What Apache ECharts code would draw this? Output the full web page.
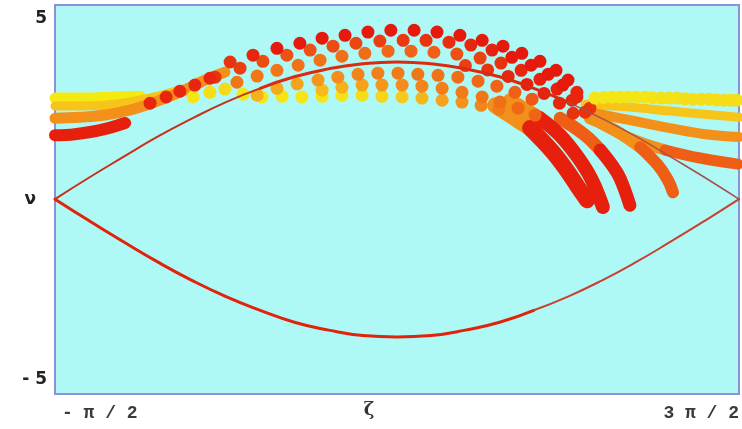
<!DOCTYPE html>
<html>
<head>
<meta charset="utf-8">
<script src="https://cdn.jsdelivr.net/npm/echarts@6/dist/echarts.min.js"></script>
<style>
  html, body { margin: 0; padding: 0; background: #ffffff; }
  #chart { width: 742px; height: 429px; }
</style>
</head>
<body>
<div id="chart"></div>
<script>
// Phase ζ is stored in units of π, velocity ν as is.
const zetaTicks = [-0.5, 1.5];
const zetaTickText = ['- π / 2', '3 π / 2'];
const nuTicks = [-5, 5];
const nuTickText = ['- 5', '5'];

// Separatrix branches [ζ/π, ν]
const separatrixUpperLeft = [[-0.5,0],[-0.4,0.6],[-0.3,1.17],[-0.2,1.73],[-0.1,2.23],[0,2.69],[0.1,3.07]];
const separatrixUpperMid = [[0.1,3.07],[0.2,3.39],[0.3,3.61],[0.4,3.75],[0.5,3.8],[0.6,3.75],[0.7,3.61],[0.8,3.39],[0.9,3.07],[1.0,2.69]];
const separatrixUpperRight = [[1.0,2.69],[1.1,2.23],[1.2,1.73],[1.3,1.17],[1.4,0.6],[1.5,0]];
const separatrixLowerLeft = [[-0.5,0],[-0.4,-0.6],[-0.3,-1.18],[-0.2,-1.74],[-0.1,-2.25],[0,-2.7],[0.1,-3.08],[0.2,-3.41],[0.3,-3.63],[0.4,-3.78],[0.5,-3.82],[0.6,-3.78],[0.7,-3.63],[0.8,-3.41],[0.9,-3.08]];
const separatrixLowerRight = [[0.9,-3.08],[1.0,-2.7],[1.1,-2.25],[1.2,-1.74],[1.3,-1.18],[1.4,-0.6],[1.5,0]];

// Particle rows in the bunch [ζ/π, ν, tone] (tone 0 = yellow, 1 = red)
const rowA = [[0.012,3.80,0.9],[0.079,3.99,0.95],[0.149,4.18,1],[0.216,4.32,1],[0.281,4.46,1],[0.348,4.54,1],[0.415,4.63,1],[0.482,4.68,1],[0.550,4.68,1],[0.617,4.63,1],[0.684,4.54,1],[0.749,4.40,1],[0.810,4.24,1],[0.865,4.04,1],[0.918,3.82,1],[0.965,3.57,1],[1.000,3.30,1],[1.026,2.96,0.95]];
const rowB = [[-0.032,3.38,0.9],[0.041,3.63,0.85],[0.108,3.82,0.8],[0.178,3.99,0.78],[0.246,4.13,0.78],[0.313,4.24,0.8],[0.380,4.32,0.82],[0.450,4.38,0.85],[0.518,4.40,0.88],[0.585,4.40,0.9],[0.652,4.35,0.92],[0.716,4.27,0.95],[0.778,4.13,0.97],[0.836,3.93,1],[0.892,3.71,1],[0.942,3.46,1],[0.985,3.16,1],[1.026,2.83,0.95],[1.064,2.52,0.9]];
const rowC = [[0.032,3.24,0.62],[0.091,3.41,0.62],[0.149,3.57,0.62],[0.211,3.71,0.64],[0.275,3.85,0.64],[0.339,3.96,0.65],[0.406,4.04,0.66],[0.474,4.10,0.68],[0.541,4.10,0.7],[0.608,4.07,0.72],[0.675,4.02,0.78],[0.743,3.91,0.84],[0.804,3.77,0.9],[0.863,3.57,0.95],[0.918,3.32,0.97],[0.968,3.05,0.97],[1.012,2.74,0.95],[1.050,2.41,0.9]];
const rowD = [[0.700,3.70,0.85],[0.765,3.58,0.9],[0.825,3.40,0.95],[0.880,3.18,0.97],[0.930,2.93,0.97],[0.975,2.66,0.95],[1.015,2.38,0.9]];
const rowE = [[0.091,2.88,0.35],[0.149,3.07,0.38],[0.208,3.19,0.42],[0.269,3.30,0.48],[0.327,3.38,0.52],[0.386,3.46,0.56],[0.444,3.49,0.58],[0.503,3.49,0.6],[0.561,3.46,0.62],[0.620,3.43,0.64],[0.678,3.38,0.66],[0.737,3.27,0.68],[0.792,3.13,0.7],[0.845,2.96,0.72],[0.895,2.77,0.75]];
const rowF = [[0.281,3.02,0.3],[0.339,3.10,0.35],[0.398,3.16,0.42],[0.456,3.16,0.48],[0.515,3.16,0.52],[0.573,3.13,0.55],[0.632,3.07,0.58],[0.690,2.96,0.6],[0.749,2.83,0.62],[0.801,2.69,0.65],[0.854,2.52,0.68],[0.904,2.33,0.7]];
const rowG = [[-0.096,2.83,0.05],[-0.047,2.96,0.1],[-0.003,3.05,0.12],[0.050,2.91,0.05],[0.105,2.83,0.05],[0.164,2.85,0.05],[0.222,2.83,0.05],[0.281,2.85,0.05],[0.339,2.88,0.08],[0.398,2.88,0.1],[0.456,2.85,0.15],[0.515,2.83,0.22],[0.573,2.80,0.32],[0.632,2.74,0.42],[0.690,2.69,0.5],[0.746,2.60,0.55],[0.798,2.49,0.6]];
const leftRedDots = [[-0.222,2.66,0.95],[-0.175,2.83,0.95],[-0.135,2.99,0.95],[-0.091,3.16,0.95],[-0.047,3.35,0.95]];
const rightYellowDots = [[1.079,2.80,0.05],[1.104,2.82,0.05],[1.129,2.83,0.05],[1.152,2.83,0.05],[1.175,2.83,0.05],[1.200,2.83,0.05],[1.225,2.83,0.05],[1.248,2.81,0.06],[1.272,2.80,0.08],[1.296,2.80,0.08],[1.319,2.80,0.08],[1.342,2.78,0.1],[1.365,2.77,0.1],[1.389,2.77,0.1],[1.412,2.77,0.1],[1.434,2.75,0.1],[1.456,2.74,0.1],[1.476,2.74,0.1],[1.494,2.74,0.1]];

// Compressed streams of particles [ζ/π, ν]
const bandLeftYellow = [[-0.5,2.80],[-0.412,2.80],[-0.325,2.83],[-0.251,2.85]];
const bandLeftAmber = [[-0.5,2.58],[-0.412,2.58],[-0.325,2.63],[-0.237,2.77],[-0.149,2.99],[-0.076,3.19]];
const bandLeftOrange = [[-0.5,2.24],[-0.427,2.27],[-0.354,2.33],[-0.281,2.47],[-0.208,2.69],[-0.135,2.96],[-0.061,3.30],[-0.003,3.52]];
const bandLeftRed = [[-0.5,1.77],[-0.442,1.80],[-0.368,1.91],[-0.295,2.11]];
const finger1Head = [[0.787,2.60],[0.845,2.24],[0.889,1.97]];
const finger1Tail = [[0.889,1.97],[0.956,1.30],[1.000,0.75],[1.035,0.25],[1.056,-0.03]];
const finger2Head = [[0.830,2.74],[0.918,2.24]];
const finger2Tail = [[0.918,2.24],[0.977,1.77],[1.029,1.16],[1.070,0.53],[1.102,-0.22]];
const finger3Head = [[0.977,2.24],[1.050,1.77],[1.094,1.36]];
const finger3Tail = [[1.094,1.36],[1.129,0.94],[1.152,0.58],[1.181,-0.17]];
const finger4Head = [[1.064,2.24],[1.137,1.91],[1.211,1.44]];
const finger4Tail = [[1.211,1.44],[1.263,0.94],[1.292,0.53],[1.307,0.19]];
const band5Head = [[1.094,2.11],[1.181,1.69],[1.284,1.36]];
const band5Tail = [[1.284,1.36],[1.386,1.14],[1.497,0.97]];
const band6 = [[1.064,2.41],[1.181,2.19],[1.298,1.97],[1.401,1.80],[1.5,1.72]];
const band7 = [[1.050,2.63],[1.181,2.55],[1.298,2.44],[1.401,2.35],[1.5,2.27]];

const YELLOW = '#f4ea12', AMBER = '#f7c41a', ORANGE = '#f3901a', ORANGE_RED = '#ee5e14', RED = '#e6200c';

function stream(data, color, width) {
  return {
    type: 'line', data, smooth: 0.4, showSymbol: false, symbol: 'none',
    lineStyle: { color, width, cap: 'round', join: 'round' },
    z: 2, silent: true
  };
}
function curve(data, color, width) {
  return {
    type: 'line', data, smooth: true, showSymbol: false, symbol: 'none',
    lineStyle: { color, width, cap: 'round' }, z: 5, silent: true
  };
}

const series = [
  stream(bandLeftYellow, YELLOW, 11),
  stream(bandLeftAmber, AMBER, 9),
  stream(bandLeftOrange, ORANGE, 11),
  stream(bandLeftRed, RED, 12),
  stream(band7, AMBER, 9),
  stream(band6, ORANGE, 10),
  stream(band5Head, ORANGE, 11),
  stream(band5Tail, ORANGE_RED, 11),
  stream(finger4Head, ORANGE, 12),
  stream(finger4Tail, ORANGE_RED, 12),
  stream(finger3Head, ORANGE_RED, 13),
  stream(finger3Tail, RED, 13),
  stream(finger2Head, ORANGE, 14),
  stream(finger2Tail, RED, 14),
  stream(finger1Head, ORANGE, 16),
  stream(finger1Tail, RED, 16)
];

const dotRows = [rowG, rowF, rowE, rowD, rowC, rowB, rowA, leftRedDots, rightYellowDots];
const dotSeriesIndex = [];
dotRows.forEach(function (row) {
  dotSeriesIndex.push(series.length);
  series.push({
    type: 'scatter', data: row, symbolSize: 13, z: 3, silent: true,
    itemStyle: { opacity: 1 }
  });
});

series.push(
  curve(separatrixUpperLeft, '#c83018', 2),
  curve(separatrixUpperMid, '#dc2a10', 3),
  curve(separatrixUpperRight, '#a8504a', 1.5),
  curve(separatrixLowerLeft, '#e0240c', 3),
  curve(separatrixLowerRight, '#c8402e', 2)
);

const chart = echarts.init(document.getElementById('chart'), null, { renderer: 'canvas' });
chart.setOption({
  animation: false,
  backgroundColor: '#ffffff',
  grid: {
    left: 55, right: 3, top: 5, bottom: 35,
    outerBoundsMode: 'none', containLabel: false,
    show: true, backgroundColor: '#aef8f6', borderColor: '#8f8fdc', borderWidth: 2
  },
  xAxis: {
    type: 'value', min: -0.5, max: 1.5,
    axisLine: { show: false }, axisTick: { show: false }, splitLine: { show: false },
    axisLabel: {
      customValues: zetaTicks,
      formatter: function (v) { return zetaTickText[zetaTicks.indexOf(v)]; },
      alignMinLabel: 'left', alignMaxLabel: 'right',
      padding: [0, 0, 0, 7],
      fontFamily: 'Liberation Mono', fontWeight: 'bold', fontSize: 18, color: '#3a3a3a', margin: 10
    },
    name: 'ζ', nameLocation: 'middle', nameGap: 7, nameMoveOverlap: false,
    nameTextStyle: { fontFamily: 'DejaVu Serif', fontWeight: 'bold', fontSize: 18, color: '#333', padding: [0, 56, 0, 0] }
  },
  yAxis: {
    type: 'value', min: -5.4, max: 5.38,
    axisLine: { show: false }, axisTick: { show: false }, splitLine: { show: false },
    axisLabel: {
      customValues: nuTicks,
      formatter: function (v) { return nuTickText[nuTicks.indexOf(v)]; },
      fontFamily: 'DejaVu Sans', fontWeight: 'bold', fontSize: 17, color: '#222', margin: 8,
      padding: [4, 0, 0, 0]
    },
    name: 'ν', nameLocation: 'middle', nameRotate: 0, nameGap: 19, nameMoveOverlap: false,
    nameTextStyle: { fontFamily: 'DejaVu Sans', fontWeight: 'bold', fontSize: 17, color: '#222', padding: [0, 0, 6, 0] }
  },
  visualMap: {
    show: false, type: 'continuous', dimension: 2, min: 0, max: 1,
    seriesIndex: dotSeriesIndex,
    inRange: { color: ['#f4ee14', '#f6c41c', '#f4921c', '#ee5814', '#e61a0c'] }
  },
  series: series
});
</script>
</body>
</html>
